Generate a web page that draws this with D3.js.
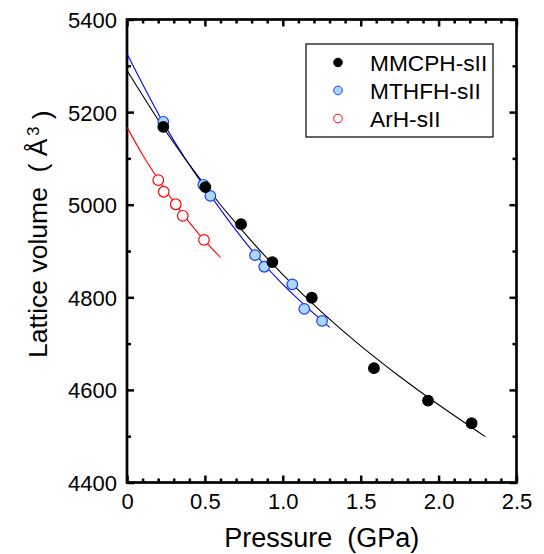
<!DOCTYPE html>
<html>
<head>
<meta charset="utf-8">
<script src="https://cdn.jsdelivr.net/npm/d3@7"></script>
<style>
  body { margin: 0; background: #fff; }
  text { font-family: Arial, "Liberation Sans", sans-serif; }
</style>
</head>
<body>
<div id="chart"></div>
<script>
// measured points
const mmcphP = [0.233, 0.503, 0.732, 0.933, 1.186, 1.585, 1.932, 2.212];
const mmcphV = [5168, 5038, 4958, 4876, 4799, 4647, 4577, 4528];

const mthfhP = [0.233, 0.490, 0.535, 0.822, 0.881, 1.061, 1.138, 1.252];
const mthfhV = [5179, 5043, 5019, 4891, 4866, 4828, 4775, 4749];

const arhP = [0.201, 0.236, 0.313, 0.358, 0.494];
const arhV = [5053, 5028, 5001, 4976, 4924];

// fitted curves
const mmcphFitP = [0, 0.25, 0.5, 0.75, 1.0, 1.25, 1.5, 1.75, 2.0, 2.3];
const mmcphFitV = [5290, 5158, 5042, 4940, 4849, 4768, 4695, 4629, 4568, 4499];

const mthfhFitP = [0, 0.25, 0.5, 0.75, 1.0, 1.25, 1.3];
const mthfhFitV = [5326, 5167, 5037, 4923, 4828, 4750, 4736];

const arhFitP = [0, 0.1, 0.2, 0.3, 0.4, 0.5, 0.6];
const arhFitV = [5167, 5108, 5055, 5006, 4962, 4922, 4886];

const xTicks = [0, 0.5, 1.0, 1.5, 2.0, 2.5];
const xTickLabels = ["0", "0.5", "1.0", "1.5", "2.0", "2.5"];
const yTicks = [4400, 4600, 4800, 5000, 5200, 5400];

const legendNames = ["MMCPH-sII", "MTHFH-sII", "ArH-sII"];

const margin = { top: 19.5, right: 27.5, bottom: 71.5, left: 127 },
    width = 544 - margin.left - margin.right,
    height = 554 - margin.top - margin.bottom;

const svg = d3.select("#chart")
    .append("svg")
    .attr("width", 544)
    .attr("height", 554)
    .append("g")
    .attr("transform", `translate(${margin.left}, ${margin.top})`);

const x = d3.scaleLinear().domain([0, 2.5]).range([0, width]);
const y = d3.scaleLinear().domain([4400, 5400]).range([height, 0]);

const zip = (a, b) => a.map((v, i) => [v, b[i]]);
const minorX = d3.range(0, 26).map(i => i / 10).filter(v => !xTicks.some(t => Math.abs(t - v) < 1e-6));
const minorY = d3.range(4400, 5401, 100).filter(v => v % 200 !== 0);

// minor ticks on all four sides
const minorAxes = [
    [d3.axisBottom(x).tickValues(minorX), `translate(0, ${height})`],
    [d3.axisTop(x).tickValues(minorX), null],
    [d3.axisLeft(y).tickValues(minorY), null],
    [d3.axisRight(y).tickValues(minorY), `translate(${width}, 0)`]
];
minorAxes.forEach(([ax, tr]) => {
    const g = svg.append("g")
        .call(ax.tickSize(-4).tickFormat(""));
    if (tr) g.attr("transform", tr);
    g.select(".domain").remove();
    g.selectAll("line").attr("stroke", "#000").attr("stroke-width", 2.5);
});

// major ticks, labelled bottom and left
const xAxis = svg.append("g")
    .attr("transform", `translate(0, ${height})`)
    .call(d3.axisBottom(x).tickValues(xTicks).tickSize(-7).tickPadding(10)
        .tickFormat((d, i) => xTickLabels[i]));
const yAxis = svg.append("g")
    .call(d3.axisLeft(y).tickValues(yTicks).tickSize(-7).tickPadding(10)
        .tickFormat(d3.format("d")));
const xTop = svg.append("g")
    .call(d3.axisTop(x).tickValues(xTicks).tickSize(-7).tickFormat(""));
const yRight = svg.append("g")
    .attr("transform", `translate(${width}, 0)`)
    .call(d3.axisRight(y).tickValues(yTicks).tickSize(-7).tickFormat(""));

[xAxis, yAxis, xTop, yRight].forEach(g => {
    g.select(".domain").remove();
    g.selectAll("line").attr("stroke", "#000").attr("stroke-width", 2.5);
    g.selectAll("text")
        .style("font-size", "22px")
        .style("font-family", "Arial, 'Liberation Sans', sans-serif")
        .attr("fill", "#000");
});
yAxis.selectAll("text").attr("dy", "0.36em");
xAxis.selectAll("text").attr("dy", "0.75em");

// frame
svg.append("rect")
    .attr("width", width)
    .attr("height", height)
    .attr("fill", "none")
    .attr("stroke", "#000")
    .attr("stroke-width", 2.7);

// fit curves
const line = d3.line()
    .x(d => x(d[0]))
    .y(d => y(d[1]))
    .curve(d3.curveNatural);

const fits = [
    [zip(arhFitP, arhFitV), "#ff0000"],
    [zip(mthfhFitP, mthfhFitV), "#0000ff"],
    [zip(mmcphFitP, mmcphFitV), "#000000"]
];
fits.forEach(([data, color]) => {
    svg.append("path")
        .datum(data)
        .attr("d", line)
        .attr("fill", "none")
        .attr("stroke", color)
        .attr("stroke-width", 1.1);
});

// points
const styles = [
    { fill: "#000000", stroke: "#000000" },
    { fill: "#a9d8fb", stroke: "#1a3cff" },
    { fill: "#ffffff", stroke: "#ff0000" }
];
const series = [
    [zip(arhP, arhV), styles[2]],
    [zip(mthfhP, mthfhV), styles[1]],
    [zip(mmcphP, mmcphV), styles[0]]
];
series.forEach(([data, s]) => {
    svg.append("g")
        .selectAll("circle")
        .data(data)
        .join("circle")
        .attr("cx", d => x(d[0]))
        .attr("cy", d => y(d[1]))
        .attr("r", 5.3)
        .attr("fill", s.fill)
        .attr("stroke", s.stroke)
        .attr("stroke-width", 1.2);
});

// legend
const legend = svg.append("g")
    .attr("transform", `translate(${306 - margin.left}, ${44 - margin.top})`);
legend.append("rect")
    .attr("width", 187)
    .attr("height", 93)
    .attr("fill", "#fff")
    .attr("stroke", "#000")
    .attr("stroke-width", 1.2);
legendNames.forEach((name, i) => {
    const row = legend.append("g")
        .attr("transform", `translate(0, ${18.5 + i * 28})`);
    row.append("circle")
        .attr("cx", 32)
        .attr("r", 4.3)
        .attr("fill", styles[i].fill)
        .attr("stroke", styles[i].stroke)
        .attr("stroke-width", 1);
    row.append("text")
        .attr("x", 64)
        .attr("dy", "0.36em")
        .style("font-size", "22.7px")
        .text(name);
});

// axis titles
svg.append("text")
    .attr("x", width / 2)
    .attr("y", 547 - margin.top)
    .attr("text-anchor", "middle")
    .style("font-size", "27px")
    .text("Pressure\u00a0\u00a0(GPa)");

const yTitle = svg.append("text")
    .attr("transform", `translate(${46.5 - margin.left}, ${358 - margin.top}) rotate(-90)`)
    .attr("text-anchor", "start")
    .style("font-size", "26.5px");
yTitle.append("tspan").text("Lattice volume\u00a0\u00a0(\u00a0\u00c5");
yTitle.append("tspan")
    .attr("dy", "-0.45em")
    .attr("dx", "0.15em")
    .style("font-size", "17px")
    .text("3");
yTitle.append("tspan")
    .attr("dy", "0.45em")
    .text("\u00a0)");
</script>
</body>
</html>
